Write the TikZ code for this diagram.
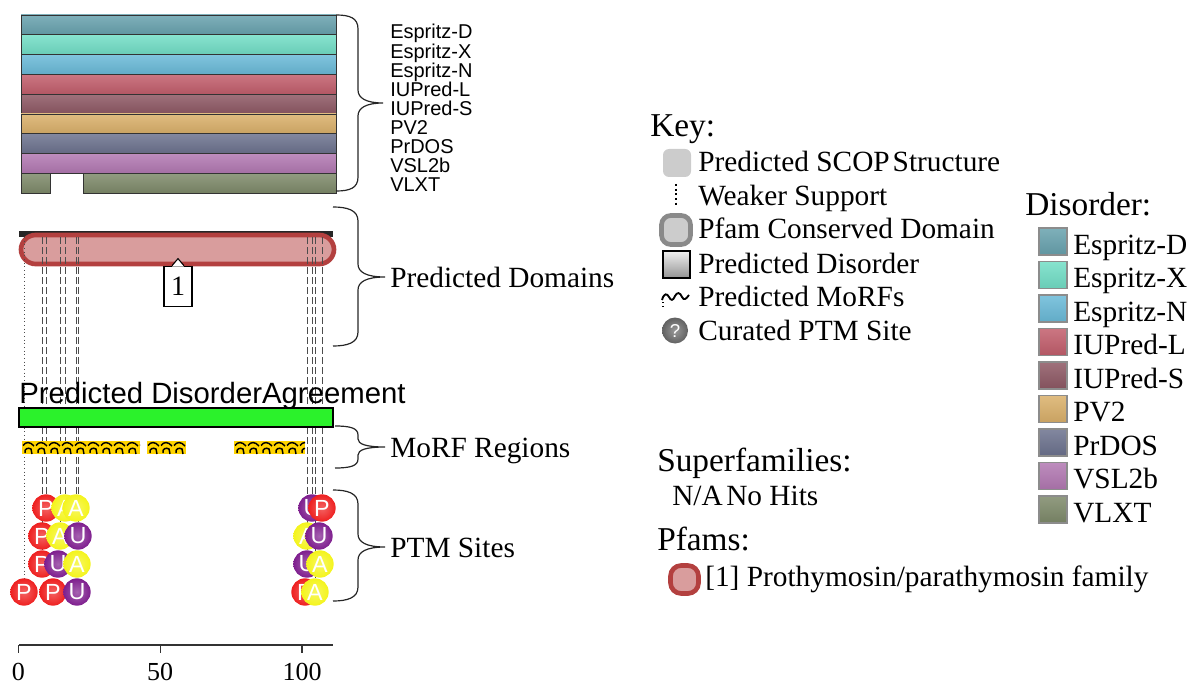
\documentclass[tikz,border=0pt]{standalone}
\usepackage{fontspec}
\setmainfont{Liberation Serif}
\setsansfont{Liberation Sans}
\usepackage{xcolor}
\usetikzlibrary{calc}
\pgfdeclarelayer{back}
\pgfdeclarelayer{mid}
\pgfsetlayers{back,mid,main}

\definecolor{espD}{HTML}{68A2AE}
\definecolor{espX}{HTML}{72DEC6}
\definecolor{espN}{HTML}{6ABAD8}
\definecolor{iupL}{HTML}{C25E6C}
\definecolor{iupS}{HTML}{8E5864}
\definecolor{pvtwo}{HTML}{DAB06A}
\definecolor{prdos}{HTML}{6C728E}
\definecolor{vsl}{HTML}{B278B2}
\definecolor{vlxt}{HTML}{7E8A6A}
\definecolor{pfamred}{HTML}{B3403F}
\definecolor{dompink}{HTML}{D99D9D}
\definecolor{agree}{HTML}{2BF22B}
\definecolor{morf}{HTML}{FFD400}
\definecolor{ptmred}{HTML}{EE2020}
\definecolor{ptmyel}{HTML}{F4F41C}
\definecolor{ptmpur}{HTML}{7E1E8E}
\definecolor{scopgray}{HTML}{CCCCCC}
\definecolor{pfamgray}{HTML}{8A8A8A}

\begin{document}
\begin{tikzpicture}[x=0.75pt,y=0.75pt,yscale=-1,xscale=1,
    bar/.style={draw=black!80, line width=0.7pt},
    legbox/.style={draw=black!45, line width=1pt},
    toptext/.style={anchor=base west, inner sep=0pt, font=\sffamily\fontsize{15}{17}\selectfont},
    keytext/.style={anchor=base west, inner sep=0pt, font=\fontsize{22}{26}\selectfont},
    headtext/.style={anchor=base west, inner sep=0pt, font=\fontsize{25}{30}\selectfont},
    axnum/.style={anchor=base, inner sep=0pt, font=\fontsize{19.5}{23}\selectfont},
    brace/.style={draw=black!85, line width=0.9pt},
    ptmline/.style={draw=black!70, line width=0.75pt, dash pattern=on 5pt off 2.5pt},
    morfmark/.style={draw=black, line width=1.1pt},
    ptmsite/.style={circle, inner sep=0pt, minimum size=20.5pt, text=white, font=\sffamily\fontsize{17.5}{20}\selectfont},
    ptmP/.style={ptmsite, inner color=ptmred!70!white, outer color=ptmred},
    ptmA/.style={ptmsite, inner color=ptmyel!70!white, outer color=ptmyel},
    ptmU/.style={ptmsite, inner color=ptmpur!70!white, outer color=ptmpur}]
    \path[use as bounding box] (0,0) rectangle (1187,684);

    %Disorder predictor bars
    \foreach \c [count=\i from 0] in {espD,espX,espN,iupL,iupS,pvtwo,prdos,vsl}
        \draw[bar, top color=\c!85!white, bottom color=\c!92!black] (21,{15+19.8*\i}) rectangle (336,{15+19.8*(\i+1)});
    \draw[bar, top color=vlxt!85!white, bottom color=vlxt!92!black] (21,173.4) rectangle (50,193.2);
    \draw[bar, top color=vlxt!85!white, bottom color=vlxt!92!black] (83,173.4) rectangle (336,193.2);

    %Brace: predictors
    \draw[brace] (336,15) .. controls (350,15) and (358,18) .. (358,29) -- (358,90) .. controls (358,98) and (366,103) .. (383,103) .. controls (366,103) and (358,108) .. (358,116) -- (358,177) .. controls (358,188) and (350,191) .. (336,191);
    \foreach \t [count=\i from 0] in {Espritz-D,Espritz-X,Espritz-N,IUPred-L,IUPred-S,PV2,PrDOS,VSL2b,VLXT}
        \node[toptext] (pred\i) at (390,{39+19.1*\i}) {\t};

    %Domain row
    \begin{pgfonlayer}{back}
    \fill[black!85] (19,231) rectangle (333,236.5);
    \draw[line width=3.5pt, draw=pfamred, fill=dompink, rounded corners=11pt] (21,235) rectangle (334,264);
    \end{pgfonlayer}
    \node[draw, fill=white, line width=0.8pt, minimum width=21pt, minimum height=30.5pt, inner sep=0pt, font=\fontsize{21}{24}\selectfont] (dlab) at (178,286.5) {1};
    \fill[white] ($(dlab.north)+(-6,1)$) -- ($(dlab.north)+(0,-7)$) -- ($(dlab.north)+(6,1)$) -- cycle;
    \draw[line width=0.8pt] ($(dlab.north)+(-6,0)$) -- ($(dlab.north)+(0,-7)$) -- ($(dlab.north)+(6,0)$);

    %Brace: domains
    \draw[brace] (333,207) .. controls (347,207) and (358,210) .. (358,221) -- (358,264) .. controls (358,272) and (366,277) .. (385,277) .. controls (366,277) and (358,282) .. (358,290) -- (358,332) .. controls (358,343) and (347,346) .. (333,346);
    \node[keytext] (tdom) at (390,287) {Predicted Domains};

    %Agreement bar
    \node[anchor=base west, inner sep=0pt, font=\sffamily\fontsize{22}{26}\selectfont] (tagree) at (19,403) {Predicted DisorderAgreement};
    \draw[fill=agree, line width=0.9pt] (19,408) rectangle (333,427);

    %MoRF regions
    \foreach \sx/\sw in {22/118, 147/39, 234/71} {
        \fill[morf] (\sx,441) rectangle ++(\sw,13);
        \begin{scope}
            \clip (\sx,441) rectangle ++(\sw,13);
            \foreach \k in {0,...,9} {
                \draw[morfmark] ({\sx+13*\k+1},445.5) .. controls ({\sx+13*\k+4},441.5) and ({\sx+13*\k+8},441.5) .. ({\sx+13*\k+12},446);
                \draw[morfmark] ({\sx+13*\k+3},453) .. controls ({\sx+13*\k+2},449) and ({\sx+13*\k+6},447) .. ({\sx+13*\k+9},449) -- ({\sx+13*\k+10},454);
            }
        \end{scope}
    }
    \draw[brace] (335,426) .. controls (350,426) and (358,428) .. (358,435) -- (358,439) .. controls (358,444) and (366,447) .. (385,447) .. controls (366,447) and (358,450) .. (358,455) -- (358,459) .. controls (358,466) and (350,468) .. (335,468);
    \node[keytext] (tmorf) at (390,457) {MoRF Regions};

    %PTM sites, left group
    \node[ptmP] (pL1a) at (46,508) {P};
    \node[ptmA] (pL1b) at (65,508) {A};
    \node[ptmA] (pL1c) at (76,508) {A};
    \node[ptmP] (pL2a) at (42,536) {P};
    \node[ptmA] (pL2b) at (60,536) {A};
    \node[ptmU] (pL2c) at (78,536) {U};
    \node[ptmP] (pL3a) at (42,564) {P};
    \node[ptmU] (pL3b) at (58,564) {U};
    \node[ptmA] (pL3c) at (77,564) {A};
    \node[ptmP] (pL4a) at (24,592) {P};
    \node[ptmP] (pL4b) at (53,592) {P};
    \node[ptmU] (pL4c) at (77,592) {U};
    %PTM sites, right group
    \node[ptmU] (pR1a) at (312,508) {U};
    \node[ptmP] (pR1b) at (322,508) {P};
    \node[ptmA] (pR2a) at (307,536) {A};
    \node[ptmU] (pR2b) at (319,536) {U};
    \node[ptmU] (pR3a) at (307,564) {U};
    \node[ptmA] (pR3b) at (320,564) {A};
    \node[ptmP] (pR4a) at (305,592) {P};
    \node[ptmA] (pR4b) at (315,592) {A};

    %site lines
    \coordinate (ltop) at (0,237);
    \begin{pgfonlayer}{mid}
    \draw[draw=black!70, line width=0.75pt, dotted] (pL4a |- ltop) -- (pL4a);
    \foreach \p in {pL3a,pL1a,pL2b,pL1b,pL1c,pL2c,pR3a,pR1a,pR4b,pR1b}
        \draw[ptmline] (\p |- ltop) -- (\p);
    \end{pgfonlayer}

    \draw[brace] (333,490) .. controls (347,490) and (358,493) .. (358,504) -- (358,534) .. controls (358,542) and (366,547) .. (385,547) .. controls (366,547) and (358,552) .. (358,560) -- (358,587) .. controls (358,598) and (347,601) .. (333,601);
    \node[keytext] (tptm) at (390,557) {PTM Sites};

    %Axis
    \draw[draw=black!80, line width=2.2pt] (19,645) -- (333,645);
    \foreach \v in {0,50,100} {
        \draw[draw=black!80, line width=0.9pt] ({18.3+2.837*\v},645) -- ({18.3+2.837*\v},653);
        \node[axnum] (ax\v) at ({18.3+2.837*\v},680) {\v};
    }

    %Key
    \node[headtext] (key) at (650,136.7) {Key:};
    \fill[scopgray, rounded corners=4.5pt] (663,149) rectangle (691,177);
    \node[keytext] (kscop) at (698,171.7) {Predicted SCOP\hspace{0.1em}Structure};
    \draw[line width=1.5pt, dotted] (676,184) -- (676,207);
    \node[keytext] (kweak) at (698,205) {Weaker Support};
    \draw[line width=3.5pt, draw=pfamgray, fill=scopgray, rounded corners=7pt] (661.5,215.5) rectangle (690.5,244.5);
    \node[keytext] (kpfam) at (698,238.5) {Pfam Conserved Domain};
    \draw[line width=1pt, top color=black!6, bottom color=black!42] (663,251) rectangle (690,278);
    \node[keytext] (kdis) at (698,273) {Predicted Disorder};
    \draw[line width=1.4pt] (662,300) .. controls (664,293) and (667,293) .. (669,297) .. controls (671,301) and (673,301) .. (675,296) .. controls (677,292) and (680,292) .. (682,297) .. controls (684,301) and (686,299) .. (689,295);
    \draw[line width=1pt, dotted] (663,302) -- (663,307);
    \node[keytext] (kmorf) at (698,306.5) {Predicted MoRFs};
    \node[circle, inner sep=0pt, minimum size=19.5pt, inner color=black!40, outer color=black!62, text=white, font=\sffamily\fontsize{14}{16}\selectfont] (kptm) at (675,330.5) {?};
    \node[keytext] (kptmt) at (698,340) {Curated PTM Site};

    %Disorder legend
    \node[headtext] (dhead) at (1025,215) {Disorder:};
    \foreach \c/\t [count=\i from 0] in {espD/Espritz-D,espX/Espritz-X,espN/Espritz-N,iupL/IUPred-L,iupS/IUPred-S,pvtwo/PV2,prdos/PrDOS,vsl/VSL2b,vlxt/VLXT} {
        \draw[legbox, top color=\c!85!white, bottom color=\c!92!black] (1039,{228+33.5*\i}) rectangle (1067,{255+33.5*\i});
        \node[keytext] (leg\i) at (1073,{254+33.5*\i}) {\t};
    }

    %Superfamilies and Pfams
    \node[headtext] (sfhead) at (657,471.7) {Superfamilies:};
    \node[keytext] (sfnone) at (672,505) {N/A\hspace{0.12em}No Hits};
    \node[headtext] (pfhead) at (657,550) {Pfams:};
    \draw[line width=3.5pt, draw=pfamred, fill=dompink, rounded corners=8pt] (670.5,565.5) rectangle (698.5,593.5);
    \node[keytext] (pf1) at (705,586.7) {[1] Prothymosin/parathymosin family};
\end{tikzpicture}
\end{document}
